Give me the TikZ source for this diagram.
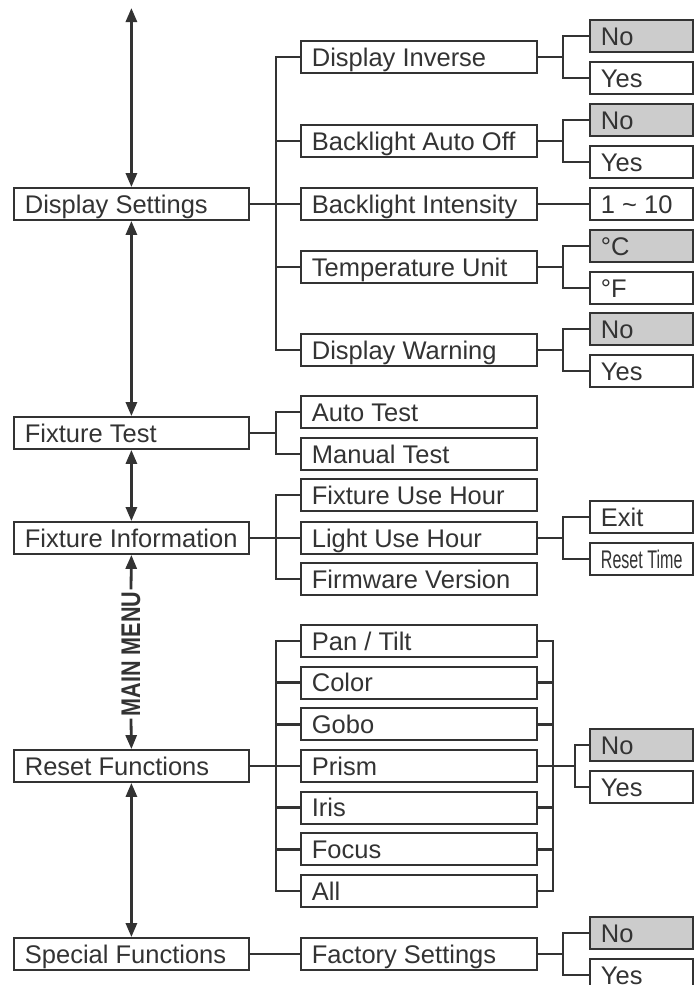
\documentclass[tikz,border=0pt]{standalone}
\usepackage{fontspec}
\setmainfont{Liberation Sans}
\usetikzlibrary{arrows.meta}
\definecolor{ink}{HTML}{333333}
\definecolor{selgray}{HTML}{CCCCCC}

\begin{document}
\begin{tikzpicture}[x=1pt, y=-1pt, >={Triangle[length=14pt,width=11pt]},
  every node/.style={font=\fontsize{25.5}{30}\selectfont, text=ink},
  menu/.style={draw=ink, line width=1.8pt, anchor=west, minimum height=32pt,
    inner xsep=11pt, inner ysep=0pt, text height=18pt, text depth=0pt,
    execute at begin node={\hbox to #1\bgroup}, execute at end node={\hfil\egroup}},
  mainitem/.style={menu=213pt},
  subitem/.style={menu=214pt},
  optitem/.style={menu=81pt},
  optsel/.style={optitem, fill=selgray},
  link/.style={draw=ink, line width=2.6pt},
  flow/.style={draw=ink, line width=2.8pt}]
  \useasboundingbox (0,0) rectangle (696,985);
  % main menu column
  \node[mainitem] (ds) at (13,204) {Display Settings};
  \node[mainitem] (ft) at (13,433) {Fixture Test};
  \node[mainitem] (fi) at (13,538) {Fixture Information};
  \node[mainitem] (rf) at (13,766) {Reset Functions};
  \node[mainitem] (sf) at (13,954) {Special Functions};
  \node[font=\fontsize{27}{30}\selectfont\bfseries, rotate=90, inner xsep=2pt,
    inner ysep=0pt] (mm) at (131,654) {\scalebox{0.8}[1]{MAIN MENU}};
  \coordinate (top) at (ds.north |- 0,8);
  % arrows between the menus
  \draw[flow,<->] (top) -- (ds.north);
  \draw[flow,<->] (ds.south) -- (ft.north);
  \draw[flow,<->] (ft.south) -- (fi.north);
  \draw[flow,->] (mm.east) -- (fi.south);
  \draw[flow,->] (mm.west) -- (rf.north);
  \draw[flow,<->] (rf.south) -- (sf.north);
  % display settings
  \node[subitem] (dinv) at (300,57) {Display Inverse};
  \node[subitem] (bao) at (300,141) {Backlight Auto Off};
  \node[subitem] (bli) at (300,204) {Backlight Intensity};
  \node[subitem] (tun) at (300,267) {Temperature Unit};
  \node[subitem] (dwarn) at (300,350) {Display Warning};
  \coordinate (dsbus) at (276,204);
  \draw[link] (ds.east) -- (dsbus);
  \foreach \n in {dinv,bao,bli,tun,dwarn}
    \draw[link] (\n.west) -| (dsbus);
  \node[optitem] (range) at (589,204) {1 \textasciitilde\ 10};
  \draw[link] (bli.east) -- (range.west);
  % fixture test
  \node[subitem] (auto) at (300,412) {Auto Test};
  \node[subitem] (manual) at (300,454) {Manual Test};
  \coordinate (ftbus) at (276,433);
  \draw[link] (ft.east) -- (ftbus);
  \foreach \n in {auto,manual}
    \draw[link] (\n.west) -| (ftbus);
  % fixture information
  \node[subitem] (fuh) at (300,495) {Fixture Use Hour};
  \node[subitem] (luh) at (300,538) {Light Use Hour};
  \node[subitem] (fwv) at (300,579) {Firmware Version};
  \coordinate (fibus) at (276,538);
  \draw[link] (fi.east) -- (fibus);
  \foreach \n in {fuh,luh,fwv}
    \draw[link] (\n.west) -| (fibus);
  \node[optitem] (exit) at (589,517) {Exit};
  \node[optitem] (rtime) at (589,559) {\scalebox{0.63}[1]{Reset Time}};
  \coordinate (luhfork) at (563,538);
  \draw[link] (luh.east) -- (luhfork);
  \foreach \n in {exit,rtime}
    \draw[link] (\n.west) -| (luhfork);
  % reset functions
  \foreach \n/\t [count=\i from 0] in {pan/{Pan / Tilt}, col/Color, gobo/Gobo,
      prism/Prism, iris/Iris, focus/Focus, all/All}
    \node[subitem] (\n) at (300,641+41.67*\i) {\t};
  \coordinate (rfbus) at (276,766);
  \coordinate (rfjoin) at (553,766);
  \coordinate (rffork) at (575,766);
  \draw[link] (rf.east) -- (rfbus);
  \foreach \n in {pan,col,gobo,prism,iris,focus,all} {
    \draw[link] (\n.west) -| (rfbus);
    \draw[link] (\n.east) -| (rfjoin);
  }
  \draw[link] (rfjoin) -- (rffork);
  \node[optsel] (rfno) at (589,745) {No};
  \node[optitem] (rfyes) at (589,787) {Yes};
  \foreach \n in {rfno,rfyes}
    \draw[link] (\n.west) -| (rffork);
  % special functions
  \node[subitem] (fset) at (300,954) {Factory Settings};
  \draw[link] (sf.east) -- (fset.west);
  % yes / no choices
  \foreach \n/\y/\a/\b in {dinv/57/No/Yes, bao/141/No/Yes, tun/267/°C/°F,
      dwarn/350/No/Yes, fset/954/No/Yes} {
    \coordinate (\n-fork) at (563,\y);
    \node[optsel] (\n-a) at (589,\y-21) {\a};
    \node[optitem] (\n-b) at (589,\y+21) {\b};
    \draw[link] (\n.east) -- (\n-fork);
    \draw[link] (\n-a.west) -| (\n-fork);
    \draw[link] (\n-b.west) -| (\n-fork);
  }
\end{tikzpicture}
\end{document}
